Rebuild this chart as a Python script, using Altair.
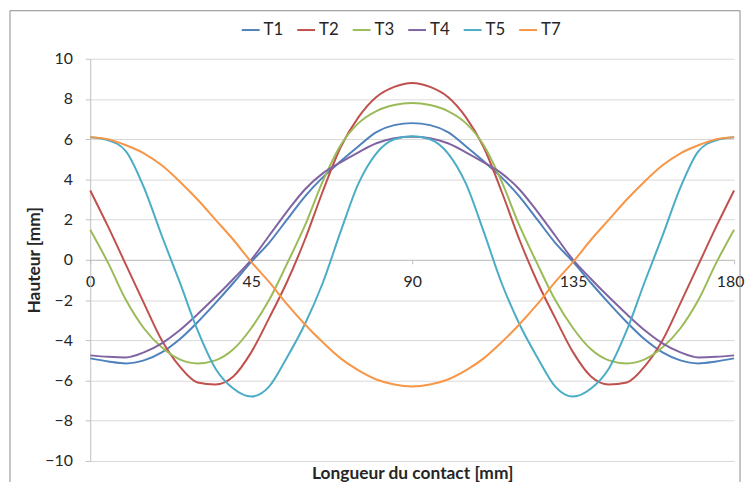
import altair as alt
import pandas as pd

# Abscissa: contact length positions (every 5 units, 0..180)
x_pos = list(range(0, 181, 5))

series_names = ["T1", "T2", "T3", "T4", "T5", "T7"]
series_colors = ["#4F81BD", "#C0504D", "#9BBB59", "#8064A2", "#4BACC6", "#F79646"]

t1 = [-4.9, -5.05, -5.15, -5.0, -4.6, -3.95, -3.1, -2.15, -1.15, -0.1,
      0.85, 2.0, 3.15, 4.1, 4.9, 5.65, 6.35, 6.7, 6.8,
      6.7, 6.35, 5.65, 4.9, 4.1, 3.15, 2.0, 0.85, -0.1,
      -1.15, -2.15, -3.1, -3.95, -4.6, -5.0, -5.15, -5.05, -4.9]

t2 = [3.45, 1.65, -0.25, -2.15, -4.0, -5.3, -6.1, -6.2, -5.8, -4.6,
      -2.9, -1.1, 1.0, 3.4, 5.6, 7.1, 8.1, 8.6, 8.8,
      8.6, 8.1, 7.1, 5.6, 3.4, 1.0, -1.1, -2.9, -4.6,
      -5.8, -6.2, -6.1, -5.3, -4.0, -2.15, -0.25, 1.65, 3.45]

t3 = [1.5, -0.15, -2.0, -3.4, -4.35, -4.95, -5.15, -5.0, -4.45, -3.4,
      -2.0, -0.2, 1.7, 3.9, 5.7, 6.8, 7.4, 7.7, 7.8,
      7.7, 7.4, 6.8, 5.7, 3.9, 1.7, -0.2, -2.0, -3.4,
      -4.45, -5.0, -5.15, -4.95, -4.35, -3.4, -2.0, -0.15, 1.5]

t4 = [-4.75, -4.82, -4.85, -4.6, -4.15, -3.5, -2.7, -1.85, -0.95, 0.0,
      1.2, 2.4, 3.5, 4.3, 4.85, 5.35, 5.8, 6.05, 6.12,
      6.05, 5.8, 5.35, 4.85, 4.3, 3.5, 2.4, 1.2, 0.0,
      -0.95, -1.85, -2.7, -3.5, -4.15, -4.6, -4.85, -4.82, -4.75]

t5 = [6.1, 5.95, 5.4, 3.6, 1.2, -1.1, -3.5, -5.4, -6.4, -6.8,
      -6.3, -4.85, -3.2, -1.15, 1.4, 3.8, 5.3, 6.0, 6.15,
      6.0, 5.3, 3.8, 1.4, -1.15, -3.2, -4.85, -6.3, -6.8,
      -6.4, -5.4, -3.5, -1.1, 1.2, 3.6, 5.4, 5.95, 6.1]

t7 = [6.1, 6.0, 5.7, 5.3, 4.7, 3.9, 3.0, 2.0, 1.0, -0.1,
      -1.1, -2.2, -3.2, -4.1, -4.9, -5.5, -5.95, -6.2, -6.3,
      -6.2, -5.95, -5.5, -4.9, -4.1, -3.2, -2.2, -1.1, -0.1,
      1.0, 2.0, 3.0, 3.9, 4.7, 5.3, 5.7, 6.0, 6.1]

x_ticks = [0, 45, 90, 135, 180]
y_ticks = list(range(-10, 11, 2))

rows = []
for name, vals in zip(series_names, [t1, t2, t3, t4, t5, t7]):
    for xv, yv in zip(x_pos, vals):
        rows.append({"x": xv, "h": yv, "serie": name})
df = pd.DataFrame(rows)

FONT = "Lato"
LABEL_COLOR = "#262626"

lines = alt.Chart(df).mark_line(strokeWidth=2, interpolate="monotone").encode(
    x=alt.X(
        "x:Q",
        scale=alt.Scale(domain=[0, 180], nice=False),
        axis=alt.Axis(
            values=x_ticks, grid=False, offset=-203,
            domainColor="#bfbfbf", tickColor="#bfbfbf", tickSize=4,
            labelPadding=10, labelFontSize=16, labelColor=LABEL_COLOR,
            labelFlush=False, labelOverlap=False,
            labelOffset=alt.ExprRef("datum.value == 180 ? -4 : 0"),
            title="Longueur du contact [mm]", titleFontSize=17.5,
            titleFontWeight="bold", titleColor=LABEL_COLOR, titlePadding=177,
        ),
    ),
    y=alt.Y(
        "h:Q",
        scale=alt.Scale(domain=[-10, 10], nice=False),
        axis=alt.Axis(
            values=y_ticks, grid=True, gridColor="#d9d9d9",
            domainColor="#bfbfbf", tickColor="#bfbfbf", tickSize=5,
            labelPadding=13, labelFontSize=16, labelColor=LABEL_COLOR,
            title="Hauteur [mm]", titleFontSize=17.5, titleFontWeight="bold",
            titleColor=LABEL_COLOR, titlePadding=1,
        ),
    ),
    color=alt.Color(
        "serie:N",
        scale=alt.Scale(domain=series_names, range=series_colors),
        legend=alt.Legend(
            title=None, orient="none", direction="horizontal",
            legendX=152, legendY=-39, symbolType="stroke",
            symbolSize=324, symbolStrokeWidth=2, labelFontSize=17,
            labelColor=LABEL_COLOR, labelOffset=3, columnPadding=10,
            padding=0,
        ),
    ),
)

border = alt.Chart(pd.DataFrame({"b": [0]})).mark_rect(
    fill="transparent", stroke="#8c8c8c", strokeWidth=1
).encode(
    x=alt.value(-81), x2=alt.value(656), y=alt.value(-48.5), y2=alt.value(440)
)

chart = alt.layer(border, lines).properties(
    width=650,
    height=406,
    padding={"left": 83, "top": 49, "right": 11, "bottom": 19},
    autosize=alt.AutoSizeParams(type="none"),
).configure(font=FONT).configure_view(strokeWidth=0)

chart.save("out.html", embed_options={"renderer": "svg", "actions": False})
